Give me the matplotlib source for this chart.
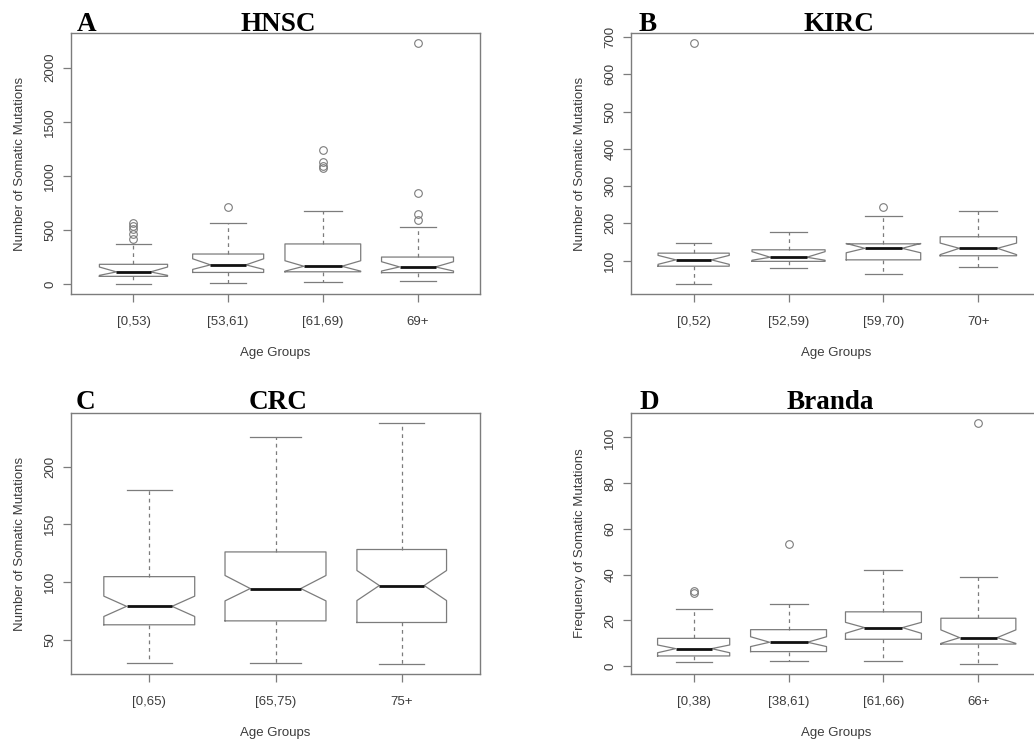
import matplotlib
matplotlib.use("Agg")
import matplotlib.pyplot as plt

# ---------------- data ----------------
A_labels = ["[0,53)", "[53,61)", "[61,69)", "69+"]
A_whislo = [6, 13, 21, 27]
A_q1 = [74, 110, 116, 108]
A_med = [115, 180, 167, 161]
A_q3 = [185, 280, 373, 252]
A_whishi = [369, 569, 677, 531]
A_cilo = [83, 138, 122, 123]
A_cihi = [160, 236, 218, 209]
A_fliers = [[418, 462, 507, 537, 565], [717], [1075, 1090, 1125, 1237], [594, 646, 846, 2231]]

B_labels = ["[0,52)", "[52,59)", "[59,70)", "70+"]
B_whislo = [36, 80, 63, 84]
B_q1 = [85, 98, 102, 113]
B_med = [102, 109, 133, 133]
B_q3 = [120, 129, 145, 164]
B_whishi = [147, 178, 220, 234]
B_cilo = [90, 101, 121, 116]
B_cihi = [114, 124, 146, 147]
B_fliers = [[684], [], [245], []]

C_labels = ["[0,65)", "[65,75)", "75+"]
C_whislo = [29.8, 29.8, 28.7]
C_q1 = [63, 66.4, 65]
C_med = [79, 94.4, 97]
C_q3 = [104.7, 126.1, 128.2]
C_whishi = [179.5, 225.4, 238]
C_cilo = [70.2, 83.7, 84]
C_cihi = [87.8, 105.7, 110]
C_fliers = [[], [], []]

D_labels = ["[0,38)", "[38,61)", "[61,66)", "66+"]
D_whislo = [1.75, 2.0, 2.3, 0.75]
D_q1 = [4.4, 6.3, 11.7, 9.6]
D_med = [7.6, 10.4, 16.8, 12.4]
D_q3 = [12.1, 15.9, 23.7, 20.9]
D_whishi = [24.8, 27.0, 41.8, 38.8]
D_cilo = [5.8, 8.5, 14.3, 9.9]
D_cihi = [9.2, 12.8, 19.1, 15.8]
D_fliers = [[32.1, 33.0], [53.3], [], [106.3]]

# ---------------- styling ----------------
W, H = 1034, 742
fig = plt.figure(figsize=(W / 100, H / 100), dpi=100)

GRAY = "#7c7c7c"
TXT = "#3c3c3c"
SANS = ["Liberation Sans", "DejaVu Sans"]
SERIF = ["Liberation Serif", "DejaVu Serif"]


def ax_at(left, top, right, bottom):
    return fig.add_axes([left / W, 1 - bottom / H, (right - left) / W, (bottom - top) / H])


def panel(ax, labels, whislo, q1, med, q3, whishi, cilo, cihi, fliers,
          widths, ylim, yticks, ylabel, letter, title, lx, tx, ty):
    stats = []
    for i in range(len(labels)):
        stats.append(dict(med=med[i], q1=q1[i], q3=q3[i], whislo=whislo[i],
                          whishi=whishi[i], cilo=cilo[i], cihi=cihi[i],
                          fliers=fliers[i], label=labels[i]))
    n = len(labels)
    pos = list(range(1, n + 1))
    ax.bxp(stats, positions=pos, widths=widths, shownotches=True,
           boxprops=dict(color=GRAY, linewidth=0.9),
           whiskerprops=dict(color=GRAY, linewidth=0.9, linestyle=(0, (3, 3))),
           capprops=dict(color=GRAY, linewidth=0.9),
           medianprops=dict(color="#111111", linewidth=2.0, solid_capstyle="butt"),
           flierprops=dict(marker="o", markersize=5.5, markerfacecolor="none",
                           markeredgecolor=GRAY, markeredgewidth=0.8))
    span = n
    ax.set_xlim(0.5 - 0.04 * span, n + 0.5 + 0.04 * span)
    ax.set_ylim(*ylim)
    ax.set_yticks(yticks)
    ax.set_yticklabels([str(t) for t in yticks], rotation=90, va="center",
                       fontfamily=SANS, fontsize=9.5, color=TXT)
    ax.set_xticks(pos)
    ax.set_xticklabels(labels, fontfamily=SANS, fontsize=9.5, color=TXT)
    ax.tick_params(axis="both", direction="out", length=6, width=0.9, color=GRAY)
    ax.tick_params(axis="y", pad=4.5)
    ax.tick_params(axis="x", pad=10)
    for s in ax.spines.values():
        s.set_color(GRAY)
        s.set_linewidth(1.0)
    ax.set_ylabel(ylabel, fontfamily=SANS, fontsize=9.5, color=TXT, labelpad=13.5)
    ax.set_xlabel("Age Groups", fontfamily=SANS, fontsize=9.5, color=TXT, labelpad=13.5)
    fig.text(lx / W, 1 - ty / H, letter, fontfamily=SERIF, fontweight="bold",
             fontsize=19.5, ha="left", va="baseline", color="black")
    fig.text(tx / W, 1 - ty / H, title, fontfamily=SERIF, fontweight="bold",
             fontsize=19.5, ha="center", va="baseline", color="black")


axA = ax_at(71, 33, 480, 294)
panel(axA, A_labels, A_whislo, A_q1, A_med, A_q3, A_whishi, A_cilo, A_cihi, A_fliers,
      [0.72, 0.75, 0.80, 0.76], (-89, 2320), [0, 500, 1000, 1500, 2000],
      "Number of Somatic Mutations", "A", "HNSC", 77, 278, 31)

axB = ax_at(631, 33, 1041, 294)
panel(axB, B_labels, B_whislo, B_q1, B_med, B_q3, B_whishi, B_cilo, B_cihi, B_fliers,
      [0.75, 0.77, 0.785, 0.805], (10.4, 710.7), [100, 200, 300, 400, 500, 600, 700],
      "Number of Somatic Mutations", "B", "KIRC", 639, 839, 31)

axC = ax_at(71, 413, 480, 674)
panel(axC, C_labels, C_whislo, C_q1, C_med, C_q3, C_whishi, C_cilo, C_cihi, C_fliers,
      [0.72, 0.80, 0.71], (20.4, 246.4), [50, 100, 150, 200],
      "Number of Somatic Mutations", "C", "CRC", 76, 278, 409)

axD = ax_at(631, 413, 1041, 674)
panel(axD, D_labels, D_whislo, D_q1, D_med, D_q3, D_whishi, D_cilo, D_cihi, D_fliers,
      [0.76, 0.80, 0.80, 0.79], (-3.5, 110.7), [0, 20, 40, 60, 80, 100],
      "Frequency of Somatic Mutations", "D", "Branda", 640, 830, 409)

fig.savefig("out.png", dpi=100)
